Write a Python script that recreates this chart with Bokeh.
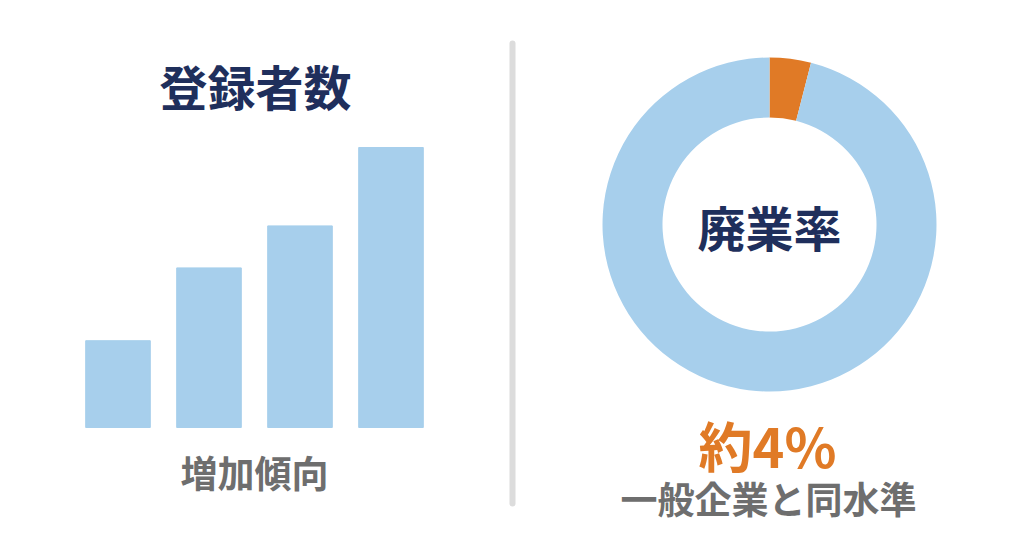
import math
from bokeh.plotting import figure
from bokeh.models import Range1d
from bokeh.core.properties import value
from bokeh.embed import file_html
from bokeh.resources import INLINE

# ---- data ----
bar_categories = ["1", "2", "3", "4"]
bar_values = [31, 57, 72, 100]
donut_labels = ["廃業", "継続"]
donut_values = [4, 96]
title_left = "登録者数"
caption_left = "増加傾向"
title_right = "廃業率"
value_right = "約4%"
caption_right = "一般企業と同水準"

# ---- styles ----
BLUE = "#a7cfec"
ORANGE = "#e07a26"
NAVY = "#1f2f5c"
GRAY = "#6e6e6e"
FONT = value("Noto Sans CJK JP")

W, H = 1008, 531
p = figure(width=W, height=H, output_backend="svg", toolbar_location=None,
           x_range=Range1d(0, W), y_range=Range1d(0, H), min_border=0)
p.axis.visible = False
p.grid.visible = False
p.outline_line_color = None
p.background_fill_color = "white"
p.border_fill_color = "white"

def Y(page_y):
    return H - page_y

def X(page_x):
    return page_x

# bars on their own scales
spacing = 91.0
first_center = X(117.5)
x_start = 1 - first_center / spacing
x_end = x_start + W / spacing
px_per_unit = 2.8
base = Y(427)
y_start = -base / px_per_unit
y_end = y_start + H / px_per_unit
p.extra_x_ranges = {"cat": Range1d(x_start, x_end)}
p.extra_y_ranges = {"val": Range1d(y_start, y_end)}
xs = [i + 1 for i in range(len(bar_categories))]
p.vbar(x=xs, top=bar_values, bottom=0, width=0.71, color=BLUE,
       x_range_name="cat", y_range_name="val")

# donut
total = sum(donut_values)
frac_or = donut_values[0] / total
start_or = math.pi / 2 - 2 * math.pi * frac_or
end_or = math.pi / 2
cx, cy = X(769), Y(224)
p.annular_wedge(x=[cx, cx], y=[cy, cy], inner_radius=107, outer_radius=167,
                start_angle=[start_or, end_or],
                end_angle=[end_or, start_or + 2 * math.pi],
                color=[ORANGE, BLUE], line_color=None)

# divider
p.line(x=[X(512), X(512)], y=[Y(43), Y(503)], line_width=6,
       line_color="#dcdcdc", line_cap="round")

# texts
def txt(x, y, s, size, color):
    p.text(x=[x], y=[y], text=[s], text_font=FONT, text_font_size=f"{size}px",
           text_font_style="bold", text_color=color, text_align="center",
           text_baseline="middle")

txt(X(255), Y(84), title_left, 48, NAVY)
txt(X(254), Y(471), caption_left, 37, GRAY)
txt(X(769), Y(225), title_right, 48, NAVY)
txt(X(767), Y(444), value_right, 54, ORANGE)
txt(X(768), Y(497), caption_right, 37, GRAY)

open("out.html", "w").write(file_html(p, INLINE))
